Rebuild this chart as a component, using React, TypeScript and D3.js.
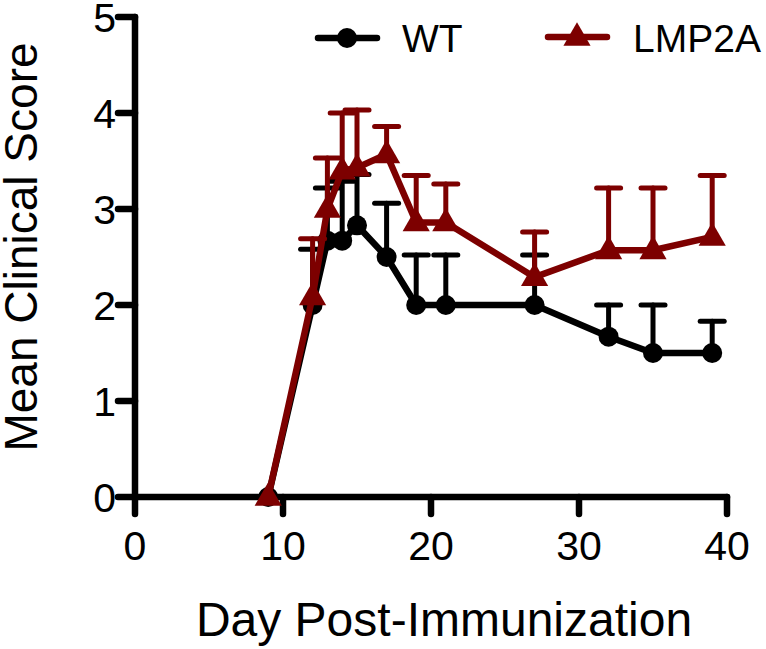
import React from "react";
import * as d3 from "d3";

const days = [9, 12, 13, 14, 15, 17, 19, 21, 27, 32, 35, 39];
const wtMean = [0, 2.0, 2.67, 2.67, 2.83, 2.5, 2.0, 2.0, 2.0, 1.67, 1.5, 1.5];
const wtErr = [0, 0.58, 0.55, 0.62, 0.53, 0.56, 0.52, 0.52, 0.52, 0.33, 0.5, 0.33];
const lmpMean = [0, 2.09, 3.0, 3.4, 3.43, 3.57, 2.86, 2.86, 2.29, 2.57, 2.57, 2.71];
const lmpErr = [0, 0.6, 0.53, 0.6, 0.6, 0.29, 0.49, 0.4, 0.47, 0.65, 0.65, 0.64];
const xTicks = [0, 10, 20, 30, 40];
const yTicks = [0, 1, 2, 3, 4, 5];
const seriesNames = ["WT", "LMP2A"];

const W = 766;
const H = 649;
const RED = "#7d0000";
const FONT = "'Liberation Sans', Arial, sans-serif";

export default function App() {
  const x = d3.scaleLinear().domain([0, 40]).range([135, 727]);
  const y = d3.scaleLinear().domain([0, 5]).range([497, 17]);
  const line = d3
    .line<[number, number]>()
    .x((d) => x(d[0]))
    .y((d) => y(d[1]));
  const tri = d3.symbol().type(d3.symbolTriangle).size(320)();

  const series = [
    { name: seriesNames[0], mean: wtMean, err: wtErr, color: "#000", shape: "circle" },
    { name: seriesNames[1], mean: lmpMean, err: lmpErr, color: RED, shape: "tri" },
  ];

  const marker = (shape: string, color: string, cx: number, cy: number, key: string) =>
    shape === "circle" ? (
      <circle key={key} cx={cx} cy={cy} r={10} fill={color} />
    ) : (
      <path key={key} d={tri as string} transform={`translate(${cx},${cy + 1})`} fill={color} />
    );

  return (
    <svg
      width={W}
      height={H}
      style={{ position: "absolute", left: 0, top: 0, background: "#fff" }}
      fontFamily={FONT}
    >
      {/* axes */}
      <g stroke="#000" strokeWidth={6.5} strokeLinecap="round" fill="none">
        <line x1={x(0)} x2={x(0)} y1={y(5)} y2={y(0)} />
        <line x1={x(0)} x2={x(40)} y1={y(0)} y2={y(0)} />
        {yTicks.map((t) => (
          <line key={"yt" + t} x1={x(0) - 17} x2={x(0)} y1={y(t)} y2={y(t)} />
        ))}
        {xTicks.map((t) => (
          <line key={"xt" + t} x1={x(t)} x2={x(t)} y1={y(0)} y2={y(0) + 17} />
        ))}
      </g>
      {yTicks.map((t) => (
        <text key={"yl" + t} x={x(0) - 19} y={y(t) + 15} fontSize={41} textAnchor="end" fill="#000">
          {t}
        </text>
      ))}
      {xTicks.map((t) => (
        <text key={"xl" + t} x={x(t)} y={560} fontSize={41} textAnchor="middle" fill="#000">
          {t}
        </text>
      ))}
      <text x={444} y={636} fontSize={48} textAnchor="middle" fill="#000">
        Day Post-Immunization
      </text>
      <text
        transform={`translate(37,${(y(0) + y(5)) / 2 - 10}) rotate(-90)`}
        fontSize={46}
        textAnchor="middle"
        fill="#000"
      >
        Mean Clinical Score
      </text>

      {/* series */}
      {series.map((s) => {
        const pts: [number, number][] = days.map((d, i) => [d, s.mean[i]]);
        return (
          <g key={s.name}>
            <path d={line(pts) as string} stroke={s.color} strokeWidth={6.5} fill="none" strokeLinejoin="round" />
            <g stroke={s.color} strokeWidth={5} strokeLinecap="round">
              {days.map((d, i) =>
                s.err[i] > 0 ? (
                  <g key={"e" + i}>
                    <line x1={x(d)} x2={x(d)} y1={y(s.mean[i])} y2={y(s.mean[i] + s.err[i])} />
                    <line x1={x(d) - 12} x2={x(d) + 12} y1={y(s.mean[i] + s.err[i])} y2={y(s.mean[i] + s.err[i])} />
                  </g>
                ) : null
              )}
            </g>
            {days.map((d, i) => marker(s.shape, s.color, x(d), y(s.mean[i]), "m" + i))}
          </g>
        );
      })}

      {/* legend */}
      <g>
        <line x1={318} x2={377} y1={38} y2={38} stroke="#000" strokeWidth={6.5} strokeLinecap="round" />
        {marker("circle", "#000", 347, 38, "lw")}
        <text x={402} y={52} fontSize={39} fill="#000">
          {seriesNames[0]}
        </text>
        <line x1={548} x2={607} y1={37} y2={37} stroke={RED} strokeWidth={6.5} strokeLinecap="round" />
        {marker("tri", RED, 577, 37, "ll")}
        <text x={633} y={52} fontSize={39} fill="#000">
          {seriesNames[1]}
        </text>
      </g>
    </svg>
  );
}
